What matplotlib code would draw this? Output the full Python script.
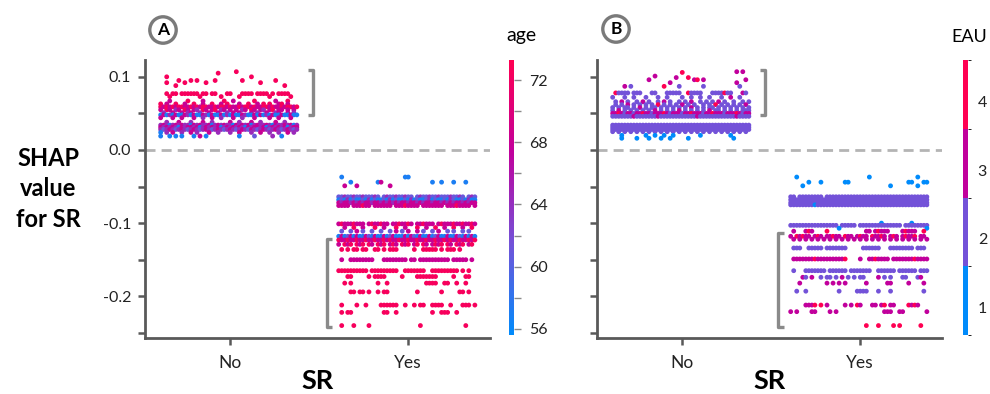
import matplotlib.pyplot as plt
from matplotlib.colors import LinearSegmentedColormap, ListedColormap, BoundaryNorm, Normalize

plt.rcParams['font.family'] = ['Lato', 'DejaVu Sans']

categories = ['No', 'Yes']
shap_colors = ['#008bfb', '#7352d8', '#c1009c', '#ff0052']
age_ticks = [56, 60, 64, 68, 72]
age_minor = [58, 62, 66, 70]
eau_ticks = [1, 2, 3, 4]
# colour codes used in the A rows -> age
age_codes = {'b': 57, 'v': 61, 'p': 64.5, 'm': 68, 'r': 72.5}

# each row: shap value, dots across the jitter width (46 slots, '.' = empty)
a_no_rows = [
    (0.107, "..... ..... ..... ..... ..... r...."),
    (0.105, "..... ..... ..... ....r"),
    (0.100, "..r.. ..... ..... ..... ..... ..... r...."),
    (0.095, "..... .r... r.r.. ...r. ..... ..r.. ..... ...r."),
    (0.092, "..r.. ...r. ..... r.... ..... ..... ...r."),
    (0.088, "..... r.... ..... ..... ..... ..... ..... ..... .r..."),
    (0.077, "..r.r r.rrr rrr.r r.rr. ..rr. ..rrr r.rrr r.r.r rrr.."),
    (0.073, "...r. ..... ...r. ..... r.... .r... ..... .r... ...r."),
    (0.067, "...m. ....r ....m ..... .r..m ..... .r... ...m. ..r.."),
    (0.063, "r.m.. r..m. .r..m ..r.. m.r.. .m..r ..m.r .r..m r.m.."),
    (0.059, "rmrmr mrrmm rmrmr rmmrm rrmrm mrmrr mrmmr rmrmm rmrrm r"),
    (0.055, "m.rm. pm.rm .mp.r m.mr. pm.m. m.pm. rm.mp .mr.m m.m.m ."),
    (0.051, ".p..m ..m.p m..p. .m..m ..p.m .m... m.p.. m..pm ..m.p ."),
    (0.048, "bmbpb mbbmp bmbbm pbmbb mbpbm bbmpb bmbmb pbmbb mbbmb b"),
    (0.044, "m...m ..m.. .m..p ..m.. p...m ..p.. .m... .m..m ...m. ."),
    (0.038, "..p.. .m... p...m ..p.. ...m. .p... m..p. ...m. .p... ."),
    (0.034, "pmpbp mpmpp bmpmp pmbpm pmppb mpmpm bpmpp mpbmp pmpmb p"),
    (0.031, "mpmpm pbmpm mpmbp mpmpm bpmpm pmpbm pmmpm bpmpm pmbpm m"),
    (0.028, "pvpmp vpmpv pmpvp mpvpm pvpmp vpmpv mpvpm pvpmp vpmpv p"),
    (0.024, "b.p.m ..p.. m.p.. .m..p ...p. .m... p..m. .p..p ..m.p ."),
    (0.019, "b..b. b.b.. .b.m. b.... ..... .b... .v... ..p.. b...."),
]
a_yes_rows = [
    (-0.037, ".b... ..... ..... ..... ..bb."),
    (-0.044, "....b ..... ...bm ..... ..... ..... .b..b ...b. ..b.."),
    (-0.049, "..m.. .m... ..... ..m.."),
    (-0.064, "vvpvv pvvpv vvpv. vpvvp vvpvv .vpvv pvvpv vvpvv pv.vp v"),
    (-0.068, "bvbpb vbbvb pbvbb vbpbv bbvbp bvbbv pbvbb vbpvb bvbpb b"),
    (-0.072, "mpmmp mpmpm mpmmp mpmpm pmmpm mpmpm mpmmp mpmpm mpmpm m"),
    (-0.076, "mmmm. mmmrm m.mmm mmm.m mmrmm mm.mm mmmmm .mmmr mmmm. m"),
    (-0.101, "mrmmm rmmm. mrmmr mm.mm rmmrm .mmrm mm.mr mmmrm mrmmr m"),
    (-0.106, "..m.. r..m. ..r.. m...r ..m.. .r..m ..r.. m..r. .m..r ."),
    (-0.111, ".v..v .m.v. .v..v ..v.m .v.m. .m.v. .v.m. .v.v. .v.v."),
    (-0.118, "bmbvm bmbbm vbmbb mbvmb bbmbm vbmbb mbvmb bmbbm vbmbm b"),
    (-0.123, "rmmrm mrmmr mmrmm rmrmm rmmrm mrmmr mmrmm rmrmm rmmrm r"),
    (-0.129, "m.rmr .rmr. rm.rm r.mrm .rmr. mr.rm .mrmr .rm.r mr.mr ."),
    (-0.136, ".r.r. rr.rr ..rr. r.rrr ..... r..rr rrr.r .rrr. r...."),
    (-0.150, ".m..m mmmmm mm... mmmmm mmm.m m.mmm mmmmm mm.mm mmm.m"),
    (-0.165, "rrrrr rrrrr .rrrr rrrrr ..rrr rrrr. .rrrr rrrrr .r.r."),
    (-0.173, "...rr ..... r.rrr r.... .r... .rrrr rrr.. ...r. ..rr."),
    (-0.182, "..r.r ..... ...r. .r... ..... ....r rrr.. rr..r ..r.."),
    (-0.194, "....r r.rr. r..r. rr... ..... .r... ....r ..... rr.r."),
    (-0.212, ".r... .r..r ....r rrrrr ..r.. r.rr. .rrrr ..r.. .rrr. r"),
    (-0.222, ".r.rr ..... ..... rr..r ..... ..... .r..r rr..r"),
    (-0.240, ".r... r.... r.... ..... ..... ..r.. ..... ..... ..r.."),
]
b_no_rows = [
    (0.107, "..... ..... ..... ..... ..... ..... ..... ..... .3.3."),
    (0.106, "..... ..... ..... ..... ...4."),
    (0.101, "..... ..... ....3"),
    (0.099, "..... ..... ..... ..... .3... 4...."),
    (0.096, "..... ..... ..3.. ..... ..... ..34. 3.... ..... ....3"),
    (0.092, "..... ..... ..... ....3 ..... ..... ..... ..... .3..."),
    (0.087, "....3 .2... ..... ..4.. ..2.. ..... 2.... ..... ..2.."),
    (0.078, ".4222 2.222 ...22 ...22 222.. 42222 ...22 22422 ...32"),
    (0.072, "2...2 ..2.. .2... 2..2. ...2. .2..2 ..2.. .2..3 ..2.."),
    (0.066, ".2.3. 2..2. 3.2.. 2.3.2 ..2.2 .3..2 .2.2. 3.2.. 2..2. 2"),
    (0.062, ".2.2. 3.2.2 .2.2. 4.2.2 .2.3. 2.2.. 2.2.4 .2.2. 2.2.3 ."),
    (0.058, "2.2.2 2.2.3 .2.22 .2.2. 2.2.2 .3.2. 2.22. 2.2.2 .2.2. 2"),
    (0.054, "2.3.2 .2.2. 2.2.3 .2.2. 2.3.2 .2.2. 2.3.2 2.2.2 .2.22 2"),
    (0.050, "33432 33233 43323 33432 33323 34333 23343 33233 34323 3"),
    (0.046, "22222 22322 22222 32222 22222 22232 22222 22222 23222 2"),
    (0.034, "22222 22222 22222 22222 22222 22222 22222 22222 22222 2"),
    (0.031, "22222 22222 22222 22222 22222 22222 22222 22222 22222 2"),
    (0.028, "22222 22222 22222 22222 22222 22222 22222 22222 22222 2"),
    (0.025, "2.2.2 .2.2. 2.2.2 .2.2. 2.2.2 .2.2. 2.2.2 .2.2. 2.2.2 ."),
    (0.020, "...1. ..... .1..1 ..1.. 1.... ....1 ..... ....1 ....."),
    (0.016, "...1. ...1. ..1.. .1..1 ..... 1.... ..... ..... 1...."),
]
b_yes_rows = [
    (-0.037, "..1.. ..... ..... ..... ..... .1... ..... ..... ..1.."),
    (-0.044, "..... .1... 1.... ...11 ..... ..... ..... ....1 1...1 1"),
    (-0.049, "....1 ..... ..... ..... ..... ..... ...1. ..... ..1.."),
    (-0.064, "22.22 22222 2.222 22222 22222 22222 22222 22222 22222 2"),
    (-0.068, "22222 22222 22222 22222 22222 22222 22222 22222 22222 2"),
    (-0.072, "22222 22222 22222 22222 22222 22222 22222 22222 22222 2"),
    (-0.075, "22222 22212 22222 22222 22222 22222 22222 22222 22222 2"),
    (-0.100, "..... ..... ..... ..... ..... ..... 1.... ..... 1...."),
    (-0.103, "22222 22222 22222 2.222 22.22 22222 22222 22.22 22222 2"),
    (-0.107, "..... ..... ..... .1... ..... ..... ..... ..... ..... 1"),
    (-0.111, ".3... 343.. ..4.. ..... ..... 33.34 333.. ..343 33..4"),
    (-0.118, "3.434 33.34 3.334 33.43 3.343 3.433 43.34 3.343 34.33 ."),
    (-0.122, ".3.3. 3.3.3 .3.3. 3.3.3 .3.3. 3.3.3 .3.3. 3.3.3 .3.3. 3"),
    (-0.134, ".222. .2222 2.222 2222. ....2 22222 ...22 22222 2.222"),
    (-0.149, ".3333 33343 33333 3334. ...3. .3343 333.3 33333 34333 3"),
    (-0.165, ".2... 22222 22.22 2222. 22222 22..2 22222 .2222 22.22 2"),
    (-0.174, "....3 2.3.. 2.22. 2.3.2 .2.22 ....3 .2.2. ..22. ..23."),
    (-0.182, "...3. ..... ..3.3 .3.3. ..... 3.... ..33. ....3 ....3"),
    (-0.193, "..2.. 2.... ..... .2... ..222 2...2 ...2. ..... ....2"),
    (-0.212, "..... 3334. 4.3.. ...3. 3.43. ..33. 34.33 ....4 343.."),
    (-0.221, "3.3.. ..33. ...3. 3.... ..... ..... .333. .33.. ..... 3"),
    (-0.240, "..... ..... ..... ..... ..... 4...4 ....4 .4... ...4."),
]

SLOTS = 46
JIT_LO, JIT_HI = -0.39, 0.375
AX_COL = '#595959'
BR_COL = '#8a8a8a'


def unpack(rows, cat, code):
    xs, ys, cs = [], [], []
    step = (JIT_HI - JIT_LO) / (SLOTS - 1)
    for val, pattern in rows:
        for i, ch in enumerate(pattern.replace(' ', '')):
            if ch == '.':
                continue
            xs.append(cat + JIT_LO + i * step)
            ys.append(val)
            cs.append(code(ch))
    return xs, ys, cs


def bracket(ax, x, y0, y1, arm):
    ax.plot([x + arm, x, x, x + arm], [y0, y0, y1, y1], color=BR_COL,
            lw=2.4, solid_capstyle='butt', clip_on=False)


def setup_axes(ax, show_labels):
    ax.set_xlim(-0.478, 1.46)
    ax.set_ylim(-0.257, 0.123)
    for s in ['top', 'right']:
        ax.spines[s].set_visible(False)
    for s in ['left', 'bottom']:
        ax.spines[s].set_color(AX_COL)
        ax.spines[s].set_linewidth(2)
    ax.set_yticks([0.1, 0.0, -0.1, -0.2])
    ax.set_yticks([0.05, -0.05, -0.15, -0.25], minor=True)
    ax.tick_params(axis='both', which='both', direction='out', length=5,
                   width=1.8, color=AX_COL, labelsize=11.5, labelcolor='#222222')
    ax.tick_params(axis='y', which='both', pad=5)
    ax.tick_params(axis='x', pad=7, labelsize=12.5)
    ax.set_xticks([0, 1])
    ax.set_xticklabels(categories)
    if show_labels:
        ax.set_yticklabels(['0.1', '0.0', '-0.1', '-0.2'])
    else:
        ax.set_yticklabels([])
    ax.axhline(0, color='#b4b4b4', lw=2, ls=(0, (3.6, 2.2)), zorder=0)


fig = plt.figure(figsize=(9.9, 3.94), dpi=100)
W, H = 990, 394


def px_axes(x0, y0, x1, y1):
    return fig.add_axes([x0 / W, 1 - y1 / H, (x1 - x0) / W, (y1 - y0) / H])


def px_text(x, y, s, **kw):
    return fig.text(x / W, 1 - y / H, s, ha='center', va='center', **kw)


# ---- panel A (age)
axA = px_axes(145, 60, 490, 338)
setup_axes(axA, True)
age_cmap = LinearSegmentedColormap.from_list('shap_rb', shap_colors)
age_norm = Normalize(55.6, 73.3)
for cat, rows in [(0, a_no_rows), (1, a_yes_rows)]:
    xs, ys, cs = unpack(rows, cat, lambda ch: age_codes[ch])
    scA = axA.scatter(xs, ys, c=cs, cmap=age_cmap, norm=age_norm, s=12,
                      linewidths=0, zorder=3)
bracket(axA, 0.466, 0.1096, 0.048, -0.03)
bracket(axA, 1 - 0.455, -0.122, -0.2425, 0.03)

caxA = px_axes(509, 60, 514, 335)
cbA = fig.colorbar(scA, cax=caxA)
cbA.outline.set_visible(False)
cbA.set_ticks(age_ticks)
caxA.set_yticks(age_minor, minor=True)
caxA.tick_params(which='both', length=5, width=1, color='#8a8a8a',
                 labelsize=11.5, pad=6, labelcolor='#222222')
px_text(521, 35, 'age', fontsize=14)

# ---- panel B (EAU)
axB = px_axes(597, 60, 942, 338)
setup_axes(axB, False)
eau_cmap = ListedColormap(shap_colors)
eau_norm = BoundaryNorm([0.6, 1.6, 2.6, 3.6, 4.6], 4)
for cat, rows in [(0, b_no_rows), (1, b_yes_rows)]:
    xs, ys, cs = unpack(rows, cat, lambda ch: int(ch))
    scB = axB.scatter(xs, ys, c=cs, cmap=eau_cmap, norm=eau_norm, s=12,
                      linewidths=0, zorder=3)
bracket(axB, 0.466, 0.1096, 0.048, -0.03)
bracket(axB, 1 - 0.46, -0.114, -0.2425, 0.03)

caxB = px_axes(963, 60, 968, 335)
cbB = fig.colorbar(scB, cax=caxB)
cbB.outline.set_visible(False)
cbB.set_ticks(eau_ticks)
caxB.tick_params(length=0, labelsize=11.5, pad=7, labelcolor='#222222')
px_text(969, 37, 'EAU', fontsize=13)

# x labels, panel letters, y label
for x in [318, 770]:
    px_text(x, 381, 'SR', fontsize=19.5, fontweight='bold')
for x, y, letter in [(163, 30, 'A'), (616, 29, 'B')]:
    px_text(x, y, letter, fontsize=12.5, fontweight='bold',
            bbox=dict(boxstyle='circle,pad=0.3', fc='white', ec='#7a7a7a', lw=2.4))

px_text(48, 189, 'SHAP\nvalue\nfor SR', fontsize=17, fontweight='bold',
        linespacing=1.4)

fig.savefig('out.png', dpi=100)
